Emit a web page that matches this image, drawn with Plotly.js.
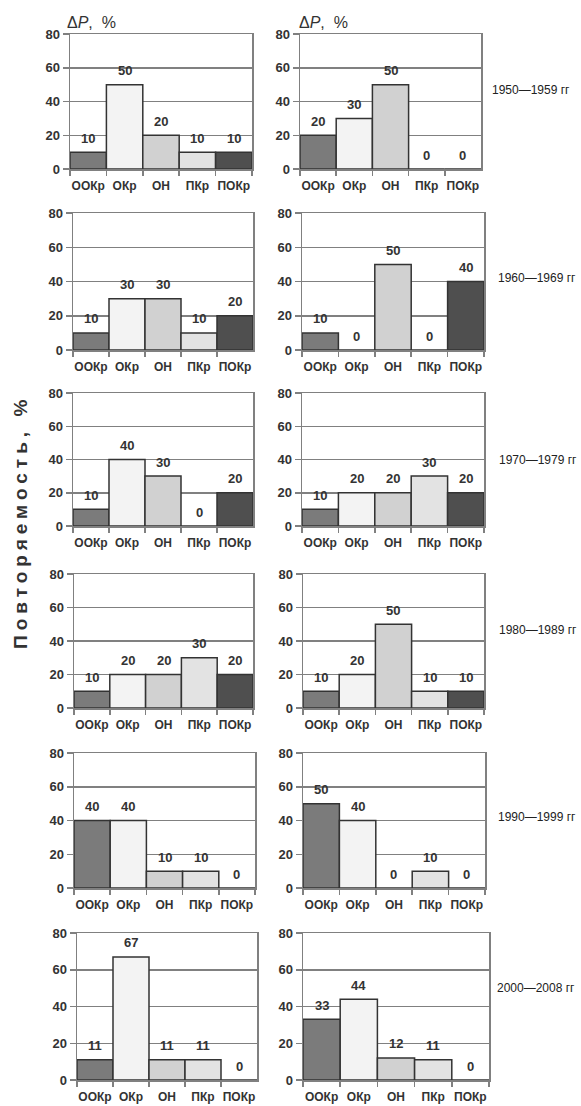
<!DOCTYPE html>
<html>
<head>
<meta charset="utf-8">
<script src="https://cdn.plot.ly/plotly-3.0.1.min.js"></script>
<style>
  html, body { margin: 0; padding: 0; background: #fff; }
  #chart { width: 581px; height: 1106px; }
</style>
</head>
<body>
<div id="chart"></div>
<script>
// ---------- DATA ----------
const categories = ['ООКр', 'ОКр', 'ОН', 'ПКр', 'ПОКр'];
const periods = ['1950—1959 гг', '1960—1969 гг', '1970—1979 гг', '1980—1989 гг', '1990—1999 гг', '2000—2008 гг'];

const left1950 = [10, 50, 20, 10, 10];
const left1960 = [10, 30, 30, 10, 20];
const left1970 = [10, 40, 30, 0, 20];
const left1980 = [10, 20, 20, 30, 20];
const left1990 = [40, 40, 10, 10, 0];
const left2000 = [11, 67, 11, 11, 0];

const right1950 = [20, 30, 50, 0, 0];
const right1960 = [10, 0, 50, 0, 40];
const right1970 = [10, 20, 20, 30, 20];
const right1980 = [10, 20, 50, 10, 10];
const right1990 = [50, 40, 0, 10, 0];
const right2000 = [33, 44, 12, 11, 0];

const yTickVals = [0, 20, 40, 60, 80];
const yAxisTitle = 'Повторяемость, %';
const panelTitle = 'Δ<i>P</i>,  %';

// ---------- STYLE / GEOMETRY ----------
const W = 581, H = 1106;
const barColors = ['#7b7b7b', '#f3f3f3', '#d1d1d1', '#e3e3e3', '#4f4f4f'];
const rowTop = [34, 213, 393, 574, 753, 933];
const rowBottom = [169, 350, 526, 708, 888, 1080];
const leftX = [[70, 252], [73, 253], [73, 253], [74, 253], [74, 255], [77, 257]];
const rightX = [[300, 481], [302, 484], [302, 484], [303, 484], [303, 485], [303, 489]];
const periodX = [490, 496, 497, 497, 496, 495];
const periodY = [90, 278, 460, 630, 817, 988];

const leftSeries = [left1950, left1960, left1970, left1980, left1990, left2000];
const rightSeries = [right1950, right1960, right1970, right1980, right1990, right2000];

const textColor = '#333';
const gridColor = '#808080';
const fontFamily = 'Arial, "Liberation Sans", Helvetica, sans-serif';

const traces = [];
const layout = {
  width: W, height: H,
  margin: {l: 0, r: 0, t: 0, b: 0},
  paper_bgcolor: '#fff', plot_bgcolor: '#fff',
  showlegend: false,
  bargap: 0,
  font: {family: fontFamily, color: textColor},
  annotations: []
};

function px(x) { return x / W; }
function py(y) { return 1 - y / H; }

for (let r = 0; r < 6; r++) {
  [[leftSeries[r], leftX[r]], [rightSeries[r], rightX[r]]].forEach(([vals, xr], side) => {
    const idx = r * 2 + side + 1;
    const xa = idx === 1 ? 'x' : 'x' + idx;
    const ya = idx === 1 ? 'y' : 'y' + idx;
    traces.push({
      type: 'bar',
      x: categories,
      y: vals,
      xaxis: xa, yaxis: ya,
      marker: {color: barColors, line: {color: '#333', width: 1.5}},
      hoverinfo: 'none',
      cliponaxis: false
    });
    const xKey = idx === 1 ? 'xaxis' : 'xaxis' + idx;
    const yKey = idx === 1 ? 'yaxis' : 'yaxis' + idx;
    layout[xKey] = {
      type: 'category',
      domain: [px(xr[0]), px(xr[1])],
      anchor: ya,
      showline: true, linecolor: gridColor, linewidth: 1.5, mirror: true,
      ticks: 'outside', tickson: 'boundaries', ticklen: 5, tickcolor: gridColor, tickwidth: 1.5,
      tickangle: 0, ticklabelstandoff: 5,
      tickfont: {size: 12, weight: 'bold', color: textColor, family: fontFamily},
      showgrid: false, fixedrange: true
    };
    layout[yKey] = {
      domain: [py(rowBottom[r]), py(rowTop[r])],
      anchor: xa,
      range: [0, 80],
      tickvals: yTickVals,
      showgrid: true, gridcolor: gridColor, gridwidth: 1.5,
      zeroline: false,
      showline: true, linecolor: gridColor, linewidth: 1.5, mirror: true,
      ticks: 'outside', ticklen: 6, tickcolor: gridColor, tickwidth: 1.5,
      tickfont: {size: 13, weight: 'bold', color: textColor, family: fontFamily},
      fixedrange: true
    };
    // value labels
    vals.forEach((v, i) => {
      layout.annotations.push({
        xref: xa, yref: ya, x: categories[i], y: v,
        text: String(v), showarrow: false,
        yanchor: 'middle', yshift: 14,
        font: {size: 13, weight: 'bold', color: textColor, family: fontFamily}
      });
    });
  });
  // period label
  layout.annotations.push({
    xref: 'paper', yref: 'paper', x: px(periodX[r]), y: py(periodY[r]),
    xanchor: 'left', yanchor: 'middle', showarrow: false,
    text: periods[r],
    font: {size: 12, color: '#222', family: fontFamily}
  });
}

// ΔP labels on top row
[65, 297].forEach(x => {
  layout.annotations.push({
    xref: 'paper', yref: 'paper', x: px(x), y: py(22),
    xanchor: 'left', yanchor: 'middle', showarrow: false,
    text: panelTitle,
    font: {size: 16, color: textColor, family: fontFamily}
  });
});

// y axis title
layout.annotations.push({
  xref: 'paper', yref: 'paper', x: px(20), y: py(522),
  xanchor: 'center', yanchor: 'middle', showarrow: false,
  textangle: -90,
  text: yAxisTitle,
  font: {size: 19, weight: 'bold', color: textColor, family: fontFamily}
});

Plotly.newPlot('chart', traces, layout, {staticPlot: true, displayModeBar: false}).then(() => {
  document.querySelectorAll('text.annotation-text').forEach(t => {
    if (t.textContent.indexOf('Повторяемость') === 0) {
      t.style.letterSpacing = '5px';
    }
  });
});
</script>
</body>
</html>
